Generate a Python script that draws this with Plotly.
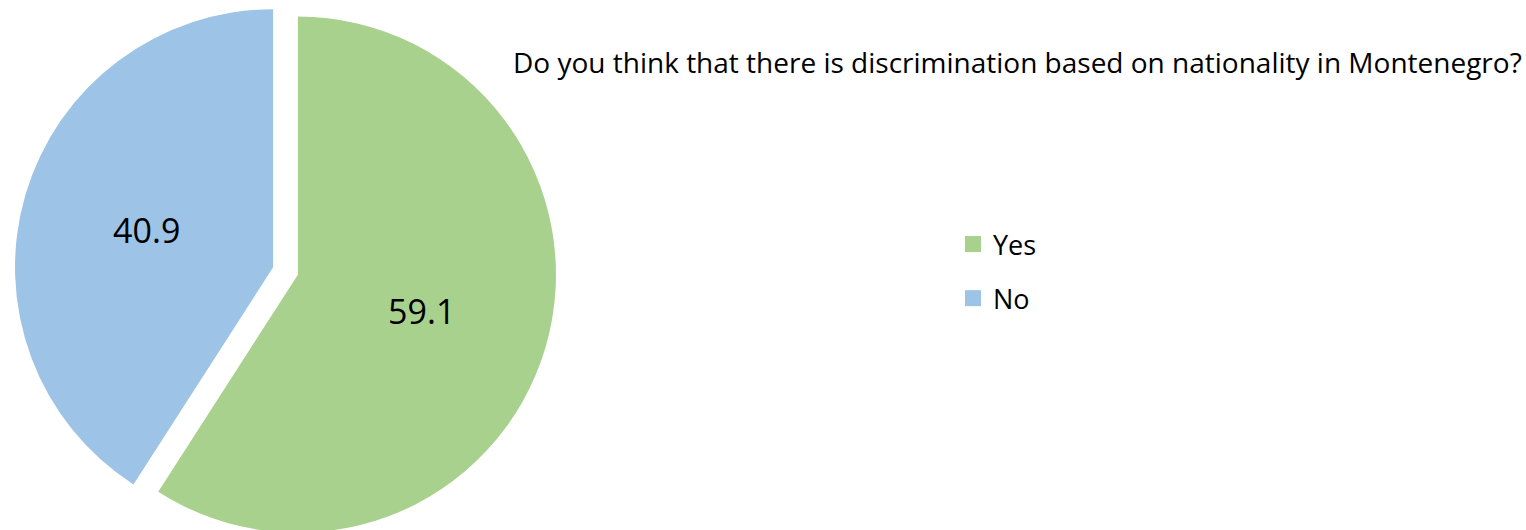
import plotly.graph_objects as go

categories = ["Yes", "No"]
values = [59.1, 40.9]
colors = ["#A9D18E", "#9DC3E6"]
title_text = "Do you think that there is discrimination based on nationality in Montenegro?"

W, H = 1526, 542
FONT = "Open Sans"

fig = go.Figure()
fig.add_trace(go.Pie(
    labels=categories,
    values=values,
    sort=False,
    direction="clockwise",
    rotation=0,
    pull=[0.05, 0.05],
    marker=dict(colors=colors, line=dict(width=0)),
    textinfo="value",
    texttemplate="%{value:.1f}",
    textposition="inside",
    insidetextorientation="horizontal",
    textfont=dict(family=FONT, size=34, color="#000000"),
    domain=dict(x=[0, 571 / W], y=[0, 1]),
    showlegend=False,
    hoverinfo="label+value",
))

# legend entries (one group each so the spacing can match)
for lab, col in zip(categories, colors):
    fig.add_trace(go.Scatter(
        x=[None], y=[None], mode="markers", name=lab,
        marker=dict(symbol="square", size=16, color=col),
        legendgroup=lab, showlegend=True, hoverinfo="skip",
    ))

fig.add_annotation(
    text=title_text, xref="paper", yref="paper",
    x=511 / W, y=1 - 62 / H, xanchor="left", yanchor="middle",
    showarrow=False, font=dict(family=FONT, size=28, color="#000000"),
)

fig.update_layout(
    width=W, height=H,
    margin=dict(l=0, r=0, t=0, b=0),
    paper_bgcolor="white", plot_bgcolor="white",
    xaxis=dict(visible=False), yaxis=dict(visible=False),
    legend=dict(
        x=953 / W, y=1 - 220 / H, xanchor="left", yanchor="top",
        font=dict(family=FONT, size=27, color="#000000"),
        tracegroupgap=16, traceorder="grouped",
        bgcolor="rgba(0,0,0,0)",
    ),
    font=dict(family=FONT),
)

fig.write_html("out.html", config={"displayModeBar": False},
               post_script="document.body.style.margin='0';")
